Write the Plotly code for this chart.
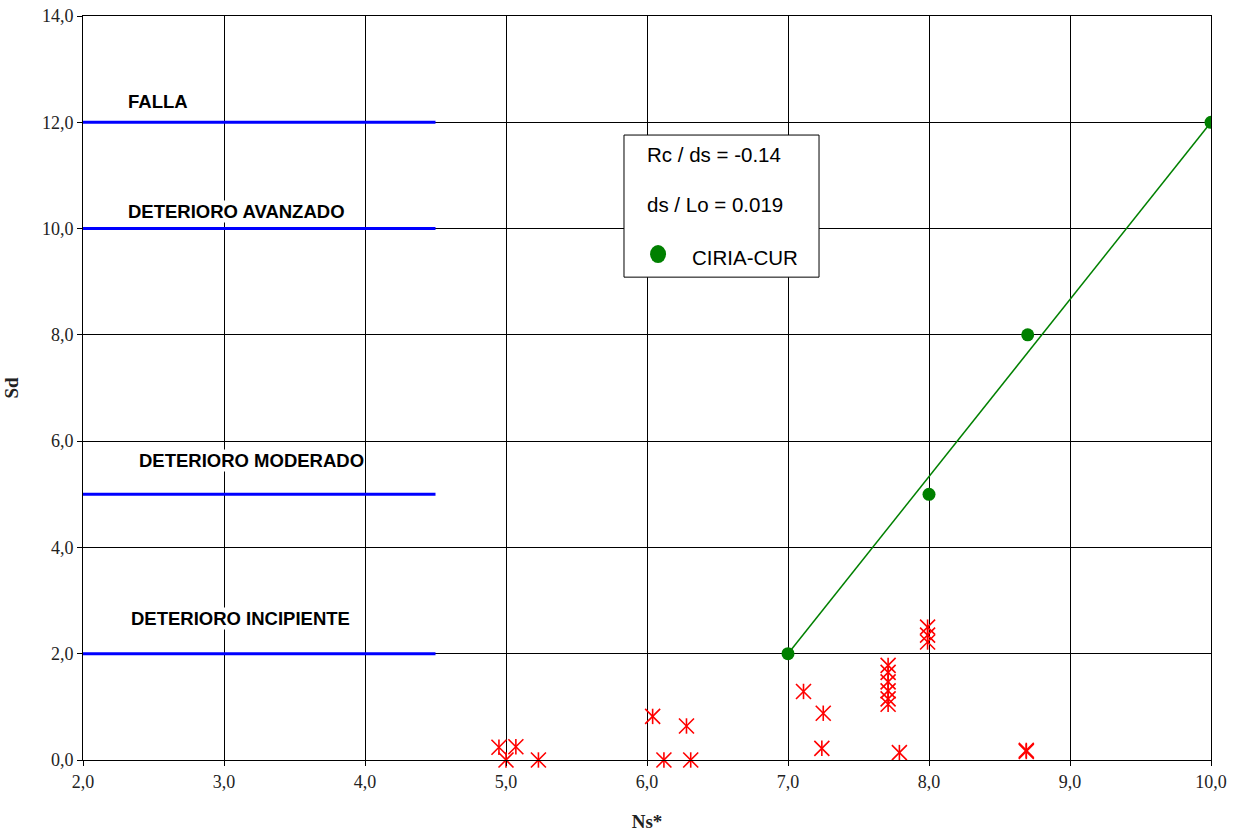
import plotly.graph_objects as go

# Measured damage (Sd) against stability number (Ns*)
ns_measured = [4.95, 5.00, 5.07, 5.23, 6.04, 6.12, 6.28, 6.31, 7.11, 7.24, 7.25,
               7.71, 7.71, 7.71, 7.71, 7.71, 7.71, 7.79, 7.99, 7.99, 7.99, 8.69, 8.69]
sd_measured = [0.24, 0.00, 0.25, 0.00, 0.82, 0.00, 0.64, 0.00, 1.29, 0.22, 0.88,
               1.78, 1.65, 1.47, 1.30, 1.15, 1.05, 0.14, 2.50, 2.35, 2.22, 0.16, 0.18]

# CIRIA-CUR design points and fitted line
ns_ciria = [7.0, 8.0, 8.7, 10.0]
sd_ciria = [2.0, 5.0, 8.0, 12.0]
ns_ciria_line = [7.0, 10.0]
sd_ciria_line = [2.0, 12.0]

# Damage levels (horizontal reference lines)
level_names = ["FALLA", "DETERIORO AVANZADO", "DETERIORO MODERADO", "DETERIORO INCIPIENTE"]
level_sd = [12.0, 10.0, 5.0, 2.0]
level_ns_span = [2.0, 4.5]
level_label_x = [2.31, 2.31, 2.39, 2.33]
level_label_y = [12.4, 10.33, 5.63, 2.67]

legend_lines = ["Rc / ds = -0.14", "ds / Lo = 0.019"]
legend_series = "CIRIA-CUR"

RED = "#FF0000"
GREEN = "#008000"

fig = go.Figure()

for sd in level_sd:
    fig.add_trace(go.Scatter(
        x=level_ns_span, y=[sd, sd], mode="lines",
        line=dict(color="#0000FF", width=3), showlegend=False, hoverinfo="skip"))

fig.add_trace(go.Scatter(
    x=ns_ciria_line, y=sd_ciria_line, mode="lines",
    line=dict(color=GREEN, width=1.5), showlegend=False))

fig.add_trace(go.Scatter(
    x=ns_ciria, y=sd_ciria, mode="markers", name=legend_series,
    marker=dict(symbol="circle", size=13, color=GREEN), showlegend=False))

# Excel-style six-armed star: an X plus a vertical stroke
fig.add_trace(go.Scatter(
    x=ns_measured, y=sd_measured, mode="markers", cliponaxis=False,
    marker=dict(symbol="x-thin-open", size=15, color=RED, line=dict(color=RED, width=1.6)),
    showlegend=False))
fig.add_trace(go.Scatter(
    x=ns_measured, y=sd_measured, mode="markers", cliponaxis=False,
    marker=dict(symbol="line-ns-open", size=11, color=RED, line=dict(color=RED, width=1.6)),
    showlegend=False))

for name, lx, ly in zip(level_names, level_label_x, level_label_y):
    fig.add_annotation(
        x=lx, y=ly, xref="x", yref="y", text=name, showarrow=False,
        xanchor="left", yanchor="middle", bgcolor="white", borderpad=0,
        font=dict(family="Liberation Sans, Arial", size=18.5, color="black", weight="bold"))

# Information box
fig.add_shape(type="rect", xref="paper", yref="paper",
              x0=0.4796, x1=0.6525, y0=0.649, y1=0.840,
              line=dict(color="black", width=1), fillcolor="white", layer="above")
legend_y = [0.8145, 0.746]
for txt, yy in zip(legend_lines, legend_y):
    fig.add_annotation(x=0.4982, y=yy, xref="paper", yref="paper", text=txt,
                       showarrow=False, xanchor="left", yanchor="middle",
                       font=dict(family="Liberation Sans, Arial", size=20.5, color="black"))
fig.add_shape(type="circle", xref="paper", yref="paper", xsizemode="pixel", ysizemode="pixel",
              xanchor=0.5098, yanchor=0.680, x0=-8, x1=8, y0=-9, y1=9,
              fillcolor=GREEN, line=dict(color=GREEN, width=0), layer="above")
fig.add_annotation(x=0.5381, y=0.676, xref="paper", yref="paper", text=legend_series,
                   showarrow=False, xanchor="left", yanchor="middle",
                   font=dict(family="Liberation Sans, Arial", size=20.5, color="black"))

axis_common = dict(
    showgrid=True, gridcolor="black", gridwidth=1,
    showline=True, linecolor="black", linewidth=1, mirror=True,
    ticks="outside", ticklen=5, tickcolor="black",
    tickformat=".1f", zeroline=False,
    tickfont=dict(family="Liberation Serif, Times New Roman", size=18, color="#222222"),
)

fig.update_xaxes(range=[2, 10], dtick=1, tick0=2,
                 title=dict(text="<b>Ns*</b>", standoff=24,
                            font=dict(family="Liberation Serif, Times New Roman", size=19, color="#222222")),
                 **axis_common)
fig.update_yaxes(range=[0, 14], dtick=2, tick0=0,
                 title=dict(text="<b>Sd</b>", standoff=18,
                            font=dict(family="Liberation Serif, Times New Roman", size=19, color="#222222")),
                 **axis_common)

fig.update_layout(
    width=1240, height=836,
    margin=dict(l=83, r=29, t=16, b=76, autoexpand=False),
    paper_bgcolor="white", plot_bgcolor="white",
    separators=",.",
    showlegend=False,
)

fig.write_html("out.html")
